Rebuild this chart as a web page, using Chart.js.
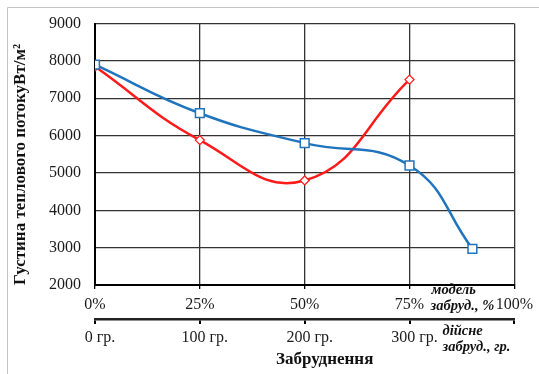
<!DOCTYPE html>
<html>
<head>
<meta charset="utf-8">
<script src="https://cdn.jsdelivr.net/npm/chart.js@4/dist/chart.umd.min.js"></script>
<style>
  html, body { margin: 0; padding: 0; background: #fff; }
  #wrap { position: relative; width: 539px; height: 374px; }
</style>
</head>
<body>
<div id="wrap"><canvas id="c" width="539" height="374"></canvas></div>
<script>
// Model contamination, % of surface
const modelX = [0, 25, 50, 75, 90];
const modelFlux = [7900, 6600, 5800, 5200, 2970];
// Real contamination (mapped onto the same % scale: 100 g = 25 %)
const realX = [0, 25, 50, 75];
const realFlux = [7850, 5880, 4800, 7500];

const pctTicks = [0, 25, 50, 75, 100];
const gramTicks = [0, 100, 200, 300, 400];

const FONT = 'Liberation Serif';
const BLUE = '#1f74bd';
const RED = '#ff1a1a';

Chart.defaults.font.family = FONT;

const toPoints = (xs, ys) => xs.map((x, i) => ({ x: x, y: ys[i] }));

// Extra labels: frame, axis captions
const extras = {
  id: 'extras',
  beforeDraw(chart) {
    const ctx = chart.ctx;
    ctx.save();
    ctx.strokeStyle = '#c4c4c4';
    ctx.lineWidth = 1;
    ctx.beginPath();
    ctx.moveTo(7.5, 374); ctx.lineTo(7.5, 7.5); ctx.lineTo(539, 7.5);
    ctx.stroke();
    ctx.restore();
  },
  afterDraw(chart) {
    const ctx = chart.ctx;
    const x = chart.scales.x;
    const x2 = chart.scales.x2;
    const area = chart.chartArea;
    ctx.save();
    ctx.fillStyle = '#111';
    ctx.textBaseline = 'middle';
    ctx.textAlign = 'left';
    ctx.font = "italic bold 14.5px " + FONT;
    const px75 = x.getPixelForValue(75);
    ctx.fillText('модель', px75 + 22, x.top + 5);
    ctx.fillText('забруд., %', px75 + 21, x.top + 21);
    ctx.fillText('дійсне', px75 + 33, x2.top + 12);
    ctx.fillText('забруд., гр.', px75 + 33, x2.top + 28);
    ctx.textAlign = 'center';
    ctx.font = "bold 17px " + FONT;
    ctx.fillText('Забруднення', (area.left + area.right) / 2 + 20, 360);
    ctx.restore();
  }
};

new Chart(document.getElementById('c'), {
  type: 'line',
  data: {
    datasets: [
      {
        label: 'модель',
        data: toPoints(modelX, modelFlux),
        borderColor: BLUE,
        borderWidth: 2.5,
        backgroundColor: '#fff',
        pointStyle: 'rect',
        pointRadius: 6.2,
        pointBorderWidth: 1.5,
        pointBorderColor: BLUE,
        pointBackgroundColor: '#fff',
        tension: 0.45,
        fill: false
      },
      {
        label: 'дійсне',
        data: toPoints(realX, realFlux),
        borderColor: RED,
        borderWidth: 2.5,
        backgroundColor: '#fff',
        pointStyle: 'rectRot',
        pointRadius: 4.5,
        pointBorderWidth: 1.3,
        pointBorderColor: RED,
        pointBackgroundColor: '#fff',
        tension: 0.45,
        fill: false
      }
    ]
  },
  options: {
    responsive: false,
    animation: false,
    events: [],
    layout: { padding: { left: 0, top: 22, right: 22, bottom: 0 } },
    plugins: { legend: { display: false }, tooltip: { enabled: false } },
    scales: {
      y: {
        min: 2000, max: 9000,
        afterFit(s) { s.width = 95; },
        ticks: {
          stepSize: 1000,
          padding: 14,
          color: '#1a1a1a',
          font: { family: FONT, size: 16 },
          callback: v => String(v)
        },
        grid: { color: '#333', lineWidth: 1.3, drawTicks: false },
        border: { color: '#000', width: 2 },
        title: {
          display: true,
          text: 'Густина теплового потокуВт/м²',
          align: 'start',
          color: '#111',
          padding: { top: 10, bottom: 0 },
          font: { family: FONT, size: 17, weight: 'bold' }
        }
      },
      x: {
        type: 'linear',
        position: 'bottom',
        min: 0, max: 100,
        afterBuildTicks(s) { s.ticks = pctTicks.map(v => ({ value: v })); },
        afterFit(s) { s.height = 34; },
        ticks: {
          padding: 6,
          maxRotation: 0,
          color: '#1a1a1a',
          font: { family: FONT, size: 16 },
          callback: v => v + '%'
        },
        grid: { color: '#333', lineWidth: 1.3, tickLength: 4, tickColor: '#000' },
        border: { color: '#000', width: 2 }
      },
      x2: {
        type: 'linear',
        position: 'bottom',
        min: 0, max: 400,
        afterBuildTicks(s) { s.ticks = gramTicks.map(v => ({ value: v })); },
        afterFit(s) { s.height = 55; },
        ticks: {
          padding: 4,
          labelOffset: 5,
          maxRotation: 0,
          color: '#1a1a1a',
          font: { family: FONT, size: 16 },
          callback: v => (v < 400 ? v + ' гр.' : '')
        },
        grid: { drawOnChartArea: false, color: '#000', lineWidth: 2, tickLength: 5 },
        border: { color: '#222', width: 2.5 }
      }
    }
  },
  plugins: [extras]
});
</script>
</body>
</html>
